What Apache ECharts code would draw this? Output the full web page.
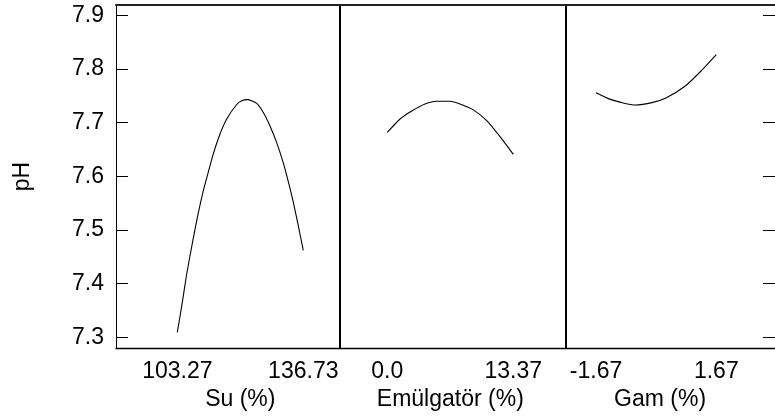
<!DOCTYPE html>
<html>
<head>
<meta charset="utf-8">
<script src="https://cdn.jsdelivr.net/npm/echarts@6/dist/echarts.min.js"></script>
<style>html,body{margin:0;padding:0;background:#fff;}#c{width:775px;height:417px;}</style>
</head>
<body>
<div id="c"></div>
<script>
// ---- data ----
const yTicks = [7.3, 7.4, 7.5, 7.6, 7.7, 7.8, 7.9];
const yTickLabels = ['7.3', '7.4', '7.5', '7.6', '7.7', '7.8', '7.9'];
const yName = 'pH';

const suName = 'Su (%)';
const suTicks = [103.27, 136.73];
const suTickLabels = ['103.27', '136.73'];
const suX = [103.27, 104.44, 105.77, 107.52, 108.85, 110.17, 111.50, 112.83, 114.61, 116.39, 119.04, 120.37, 121.86, 124.36, 126.11, 127.89, 129.67, 131.42, 132.75, 134.07, 135.40, 136.73];
const suY = [7.309, 7.358, 7.418, 7.485, 7.532, 7.573, 7.608, 7.642, 7.679, 7.707, 7.734, 7.741, 7.743, 7.736, 7.719, 7.694, 7.663, 7.625, 7.590, 7.552, 7.508, 7.462];

const emName = 'Emülgatör (%)';
const emTicks = [0, 13.37];
const emTickLabels = ['0.0', '13.37'];
const emX = [0, 1.35, 2.59, 4.00, 5.24, 6.65, 7.71, 9.13, 10.55, 11.96, 13.37];
const emY = [7.682, 7.707, 7.722, 7.735, 7.740, 7.740, 7.735, 7.724, 7.704, 7.674, 7.641];

const gamName = 'Gam (%)';
const gamTicks = [-1.67, 1.67];
const gamTickLabels = ['-1.67', '1.67'];
const gamX = [-1.67, -1.29, -0.98, -0.58, -0.09, 0.27, 0.80, 1.24, 1.67];
const gamY = [7.756, 7.744, 7.738, 7.733, 7.738, 7.746, 7.768, 7.796, 7.827];

// ---- layout / style ----
const FONT = '"Liberation Sans", Arial, Helvetica, sans-serif';
const FS = 23;
const Y_MIN = 7.28, Y_MAX = 7.9195;
const panels = [
  {left: 116, width: 224, min: 86.99, max: 146.48, ticks: suTicks, labels: suTickLabels, xs: suX, ys: suY, name: suName},
  {left: 340, width: 226, min: -5.02, max: 18.96, ticks: emTicks, labels: emTickLabels, xs: emX, ys: emY, name: emName},
  {left: 566, width: 218, min: -2.504, max: 3.30, ticks: gamTicks, labels: gamTickLabels, xs: gamX, ys: gamY, name: gamName}
];
const TOP = 5, HEIGHT = 343;

const chart = echarts.init(document.getElementById('c'), null, {renderer: 'canvas'});

const grid = [], xAxis = [], yAxis = [], series = [];
panels.forEach((p, i) => {
  grid.push({left: p.left, top: TOP, width: p.width, height: HEIGHT, containLabel: false});
  xAxis.push({
    type: 'value', gridIndex: i, position: 'bottom', min: p.min, max: p.max,
    axisLine: {show: true, onZero: false, lineStyle: {color: '#000', width: 1.3}},
    axisTick: {show: false},
    splitLine: {show: false},
    axisLabel: {
      show: true, customValues: p.ticks, margin: 12, color: '#000', fontSize: FS, fontFamily: FONT,
      formatter: (v) => { const k = p.ticks.findIndex(t => Math.abs(t - v) < 1e-6); return k >= 0 ? p.labels[k] : ''; }
    }
  });
  xAxis.push({
    type: 'value', gridIndex: i, position: 'top', min: p.min, max: p.max,
    axisLine: {show: true, onZero: false, lineStyle: {color: '#222', width: 2}},
    axisTick: {show: false}, axisLabel: {show: false}, splitLine: {show: false}
  });
  if (i === 0) {
    yAxis.push({
      type: 'value', gridIndex: i, position: 'left', min: Y_MIN, max: Y_MAX,
      name: yName, nameLocation: 'middle', nameGap: 82, nameRotate: 90,
      nameTextStyle: {color: '#000', fontSize: FS, fontFamily: FONT},
      axisLine: {show: true, onZero: false, lineStyle: {color: '#000', width: 1}},
      axisTick: {show: true, inside: true, length: 12, customValues: yTicks, lineStyle: {color: '#000', width: 1}},
      axisLabel: {
        show: true, customValues: yTicks, margin: 12, color: '#000', fontSize: FS, fontFamily: FONT,
        formatter: (v) => { const k = yTicks.findIndex(t => Math.abs(t - v) < 1e-6); return k >= 0 ? yTickLabels[k] : ''; }
      },
      splitLine: {show: false}
    });
  } else {
    yAxis.push({
      type: 'value', gridIndex: i, position: 'left', min: Y_MIN, max: Y_MAX,
      axisLine: {show: true, onZero: false, lineStyle: {color: '#000', width: 2}},
      axisTick: {show: false}, axisLabel: {show: false}, splitLine: {show: false}
    });
  }
  series.push({
    type: 'line', xAxisIndex: 2 * i, yAxisIndex: yAxis.length - 1,
    data: p.xs.map((x, k) => [x, p.ys[k]]),
    showSymbol: false, smooth: 0.2,
    lineStyle: {color: '#000', width: 1.1}, silent: true
  });
});
yAxis.push({
  type: 'value', gridIndex: 2, position: 'right', min: Y_MIN, max: Y_MAX,
  axisLine: {show: true, onZero: false, lineStyle: {color: '#000', width: 1}},
  axisTick: {show: true, inside: true, length: 12, customValues: yTicks, lineStyle: {color: '#000', width: 1}},
  axisLabel: {show: false}, splitLine: {show: false}
});

const graphic = panels.map(p => {
  const c = (p.ticks[0] + p.ticks[1]) / 2;
  const px = p.left + (c - p.min) / (p.max - p.min) * p.width;
  return {
    type: 'text', x: px, y: 400,
    style: {text: p.name, fill: '#000', font: FS + 'px ' + FONT, textAlign: 'center', textVerticalAlign: 'middle'}
  };
});

chart.setOption({
  animation: false,
  backgroundColor: '#fff',
  grid, xAxis, yAxis, series, graphic
});
</script>
</body>
</html>
